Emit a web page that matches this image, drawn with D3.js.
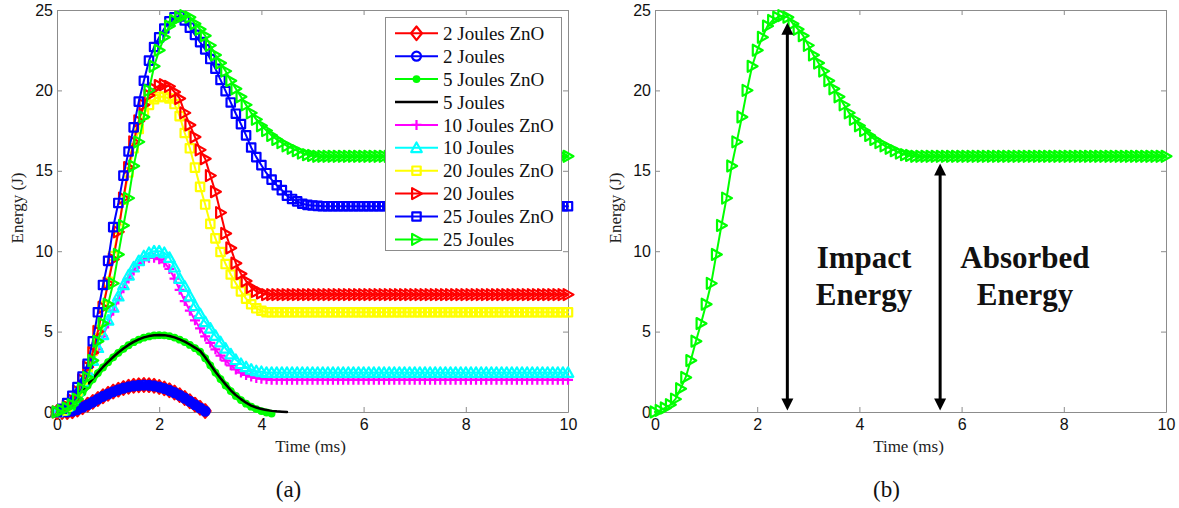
<!DOCTYPE html>
<html>
<head>
<meta charset="utf-8">
<script src="https://cdn.jsdelivr.net/npm/d3@7"></script>
<style>
  body { margin: 0; background: #fff; }
  svg { display: block; }
</style>
</head>
<body>
<script>
// sample times (ms), shared by every series
const timeMs = [
  0, 0.1, 0.2, 0.3, 0.4, 0.5, 0.6, 0.7, 0.8, 0.9,
  1, 1.1, 1.2, 1.3, 1.4, 1.5, 1.6, 1.7, 1.8, 1.9,
  2, 2.1, 2.2, 2.3, 2.4, 2.5, 2.6, 2.7, 2.8, 2.9,
  3, 3.1, 3.2, 3.3, 3.4, 3.5, 3.6, 3.7, 3.8, 3.9,
  4, 4.1, 4.2, 4.3, 4.4, 4.5, 4.6, 4.7, 4.8, 4.9,
  5, 5.1, 5.2, 5.3, 5.4, 5.5, 5.6, 5.7, 5.8, 5.9,
  6, 6.1, 6.2, 6.3, 6.4, 6.5, 6.6, 6.7, 6.8, 6.9,
  7, 7.1, 7.2, 7.3, 7.4, 7.5, 7.6, 7.7, 7.8, 7.9,
  8, 8.1, 8.2, 8.3, 8.4, 8.5, 8.6, 8.7, 8.8, 8.9,
  9, 9.1, 9.2, 9.3, 9.4, 9.5, 9.6, 9.7, 9.8, 9.9,
  10
];

// energy (J), one value per sample time
const energy2JZnO = [
  0, 0, 0, 0.05, 0.15, 0.3, 0.46, 0.63, 0.81, 0.98,
  1.13, 1.27, 1.39, 1.49, 1.57, 1.63, 1.66, 1.68, 1.67, 1.63,
  1.56, 1.47, 1.35, 1.21, 1.05, 0.87, 0.67, 0.46, 0.26, 0.06
];
const energy2J = [
  0, 0, 0, 0.05, 0.15, 0.3, 0.45, 0.62, 0.8, 0.97,
  1.12, 1.26, 1.38, 1.48, 1.56, 1.62, 1.65, 1.67, 1.66, 1.62,
  1.55, 1.46, 1.34, 1.2, 1.04, 0.86, 0.66, 0.45, 0.25, 0.05
];
const energy5JZnO = [
  0, 0, 0, 0.3, 0.75, 1.22, 1.65, 2.03, 2.42, 2.77,
  3.1, 3.4, 3.68, 3.93, 4.15, 4.34, 4.5, 4.62, 4.7, 4.76,
  4.78, 4.77, 4.72, 4.63, 4.5, 4.35, 4.17, 3.97, 3.75, 3.35,
  2.9, 2.45, 2.05, 1.65, 1.3, 1.0, 0.74, 0.52, 0.33, 0.18,
  0.06, -0.03, -0.1
];
const energy5J = [
  0, 0, 0.02, 0.35, 0.8, 1.27, 1.7, 2.07, 2.45, 2.8,
  3.12, 3.42, 3.7, 3.95, 4.17, 4.36, 4.52, 4.64, 4.72, 4.77,
  4.79, 4.78, 4.73, 4.64, 4.52, 4.38, 4.2, 4.0, 3.8, 3.4,
  2.95, 2.5, 2.1, 1.72, 1.35, 1.05, 0.8, 0.58, 0.4, 0.28,
  0.19, 0.12, 0.07, 0.04, 0.02, 0
];
const energy10JZnO = [
  0, 0.1, 0.3, 0.7, 1.2, 1.8, 2.4, 3.1, 3.9, 4.7,
  5.5, 6.3, 7.0, 7.7, 8.3, 8.8, 9.2, 9.45, 9.6, 9.6,
  9.5, 9.3, 8.9, 8.3, 7.6, 6.9, 6.3, 5.7, 5.2, 4.7,
  4.3, 3.9, 3.5, 3.2, 2.9, 2.65, 2.45, 2.3, 2.2, 2.12,
  2.07, 2.03, 2, 2, 2, 2, 2, 2, 2, 2,
  2, 2, 2, 2, 2, 2, 2, 2, 2, 2,
  2, 2, 2, 2, 2, 2, 2, 2, 2, 2,
  2, 2, 2, 2, 2, 2, 2, 2, 2, 2,
  2, 2, 2, 2, 2, 2, 2, 2, 2, 2,
  2, 2, 2, 2, 2, 2, 2, 2, 2, 2,
  2
];
const energy10J = [
  0, 0.1, 0.35, 0.8, 1.3, 1.9, 2.5, 3.2, 4.0, 4.8,
  5.7, 6.5, 7.2, 7.9, 8.5, 9.0, 9.4, 9.7, 9.9, 10.0,
  10.0, 9.9, 9.6, 9.0, 8.3, 7.8, 7.2, 6.6, 6.1, 5.6,
  5.2, 4.75, 4.35, 3.95, 3.6, 3.25, 3.0, 2.8, 2.65, 2.55,
  2.5, 2.45, 2.45, 2.45, 2.45, 2.45, 2.45, 2.45, 2.45, 2.45,
  2.45, 2.45, 2.45, 2.45, 2.45, 2.45, 2.45, 2.45, 2.45, 2.45,
  2.45, 2.45, 2.45, 2.45, 2.45, 2.45, 2.45, 2.45, 2.45, 2.45,
  2.45, 2.45, 2.45, 2.45, 2.45, 2.45, 2.45, 2.45, 2.45, 2.45,
  2.45, 2.45, 2.45, 2.45, 2.45, 2.45, 2.45, 2.45, 2.45, 2.45,
  2.45, 2.45, 2.45, 2.45, 2.45, 2.45, 2.45, 2.45, 2.45, 2.45,
  2.45
];
const energy20JZnO = [
  0, 0.1, 0.35, 0.75, 1.3, 2.0, 2.8, 3.8, 5.1, 6.6,
  8.1, 9.7, 11.4, 13.2, 14.9, 16.4, 17.6, 18.5, 19.1, 19.45,
  19.6, 19.6, 19.5, 19.15, 18.4, 17.35, 16.4, 15.2, 14.0, 12.9,
  11.7, 10.8, 9.95, 9.2, 8.55, 8.0, 7.5, 7.05, 6.7, 6.45,
  6.3, 6.2, 6.2, 6.2, 6.2, 6.2, 6.2, 6.2, 6.2, 6.2,
  6.2, 6.2, 6.2, 6.2, 6.2, 6.2, 6.2, 6.2, 6.2, 6.2,
  6.2, 6.2, 6.2, 6.2, 6.2, 6.2, 6.2, 6.2, 6.2, 6.2,
  6.2, 6.2, 6.2, 6.2, 6.2, 6.2, 6.2, 6.2, 6.2, 6.2,
  6.2, 6.2, 6.2, 6.2, 6.2, 6.2, 6.2, 6.2, 6.2, 6.2,
  6.2, 6.2, 6.2, 6.2, 6.2, 6.2, 6.2, 6.2, 6.2, 6.2,
  6.2
];
const energy20J = [
  0, 0.1, 0.35, 0.75, 1.3, 2.0, 2.8, 3.7, 5.0, 6.5,
  8.0, 9.5, 11.2, 13.3, 15.2, 16.8, 18.1, 19.1, 19.7, 20.1,
  20.3, 20.35, 20.25, 19.9, 19.5, 18.6, 17.85, 17.1, 16.3, 15.75,
  14.7, 13.7, 12.4, 11.1, 10.2, 9.25, 8.6, 8.15, 7.75, 7.5,
  7.4, 7.3, 7.3, 7.3, 7.3, 7.3, 7.3, 7.3, 7.3, 7.3,
  7.3, 7.3, 7.3, 7.3, 7.3, 7.3, 7.3, 7.3, 7.3, 7.3,
  7.3, 7.3, 7.3, 7.3, 7.3, 7.3, 7.3, 7.3, 7.3, 7.3,
  7.3, 7.3, 7.3, 7.3, 7.3, 7.3, 7.3, 7.3, 7.3, 7.3,
  7.3, 7.3, 7.3, 7.3, 7.3, 7.3, 7.3, 7.3, 7.3, 7.3,
  7.3, 7.3, 7.3, 7.3, 7.3, 7.3, 7.3, 7.3, 7.3, 7.3,
  7.3
];
const energy25JZnO = [
  0, 0.2, 0.55, 1.0, 1.55, 2.2, 3.0, 4.4, 6.2, 7.9,
  9.4, 11.5, 13.0, 14.7, 16.2, 17.7, 19.3, 20.6, 21.85, 22.7,
  23.3, 23.85, 24.3, 24.55, 24.6, 24.35, 23.9, 23.45, 23.0, 22.55,
  21.95, 21.35, 20.65, 19.95, 19.25, 18.55, 17.9, 17.2, 16.45, 15.85,
  15.35, 14.85, 14.45, 14.1, 13.8, 13.45, 13.25, 13.1, 12.95, 12.88,
  12.84, 12.82, 12.8, 12.8, 12.8, 12.8, 12.8, 12.8, 12.8, 12.8,
  12.8, 12.8, 12.8, 12.8, 12.8, 12.8, 12.8, 12.8, 12.8, 12.8,
  12.8, 12.8, 12.8, 12.8, 12.8, 12.8, 12.8, 12.8, 12.8, 12.8,
  12.8, 12.8, 12.8, 12.8, 12.8, 12.8, 12.8, 12.8, 12.8, 12.8,
  12.8, 12.8, 12.8, 12.8, 12.8, 12.8, 12.8, 12.8, 12.8, 12.8,
  12.8
];
const energy25J = [
  0, 0.1, 0.25, 0.45, 0.8, 1.45, 2.15, 3.2, 4.4, 5.5,
  6.7, 8.0, 9.8, 11.6, 13.3, 15.3, 16.8, 18.35, 20.0, 21.5,
  22.5, 23.3, 24.0, 24.35, 24.55, 24.65, 24.55, 24.15, 23.8, 23.4,
  22.8, 22.2, 21.7, 21.2, 20.6, 20.1, 19.6, 19.1, 18.6, 18.2,
  17.8, 17.5, 17.2, 16.95, 16.75, 16.55, 16.4, 16.25, 16.1, 16.0,
  15.95, 15.9, 15.9, 15.9, 15.9, 15.9, 15.9, 15.9, 15.9, 15.9,
  15.9, 15.9, 15.9, 15.9, 15.9, 15.9, 15.9, 15.9, 15.9, 15.9,
  15.9, 15.9, 15.9, 15.9, 15.9, 15.9, 15.9, 15.9, 15.9, 15.9,
  15.9, 15.9, 15.9, 15.9, 15.9, 15.9, 15.9, 15.9, 15.9, 15.9,
  15.9, 15.9, 15.9, 15.9, 15.9, 15.9, 15.9, 15.9, 15.9, 15.9,
  15.9
];

const legendLabels = [
  "2 Joules ZnO", "2 Joules", "5 Joules ZnO", "5 Joules", "10 Joules ZnO",
  "10 Joules", "20 Joules ZnO", "20 Joules", "25 Joules ZnO", "25 Joules"
];
const xTicks = [0, 2, 4, 6, 8, 10];
const yTicks = [0, 5, 10, 15, 20, 25];

// annotations of panel (b), in data units
const arrows = [
  { t: 2.59, from: 0.1, to: 24.2 },
  { t: 5.58, from: 0.1, to: 15.45 }
];
const notes = [
  { t: 4.09, e: 8.95, lines: ["Impact", "Energy"] },
  { t: 7.24, e: 8.95, lines: ["Absorbed", "Energy"] }
];

// styles, in the order the lines are drawn (band = plotted line width)
const styleA = [
  { color: "#ff0000", marker: "diamond", size: 6.8, lw: 2, band: 3 },
  { color: "#0000ff", marker: "circle", size: 4.5, lw: 2, band: 8 },
  { color: "#00ff00", marker: "dot", size: 3.9, lw: 2, band: 6 },
  { color: "#000000", marker: null, size: 0, lw: 2.5, band: 2.5 },
  { color: "#ff00ff", marker: "plus", size: 5, lw: 2, band: 2 },
  { color: "#00ffff", marker: "triUp", size: 5.3, lw: 2, band: 2 },
  { color: "#ffff00", marker: "square", size: 4.2, lw: 2, band: 2 },
  { color: "#ff0000", marker: "triRight", size: 5.5, lw: 2, band: 2 },
  { color: "#0000ff", marker: "square", size: 4.2, lw: 2, band: 2 },
  { color: "#00ff00", marker: "triRight", size: 5.5, lw: 2, band: 2 }
];
const valuesA = [
  energy2JZnO, energy2J, energy5JZnO, energy5J, energy10JZnO,
  energy10J, energy20JZnO, energy20J, energy25JZnO, energy25J
];

const W = 1179, H = 508;
const axisGray = "#8c8c8c";
const serif = "'Liberation Serif', 'Times New Roman', serif";
const sans = "'Liberation Sans', Arial, sans-serif";

const svg = d3.select("body").append("svg")
  .attr("width", W)
  .attr("height", H)
  .attr("viewBox", `0 0 ${W} ${H}`);

function markerPath(type, h) {
  switch (type) {
    case "diamond": return `M0,${-h}L${h * 0.8},0L0,${h}L${-h * 0.8},0Z`;
    case "square": return `M${-h},${-h}H${h}V${h}H${-h}Z`;
    case "triUp": return `M0,${-h}L${h},${h * 0.8}L${-h},${h * 0.8}Z`;
    case "triRight": return `M${h},0L${-h * 0.8},${-h}L${-h * 0.8},${h}Z`;
    case "plus": return `M${-h},0H${h}M0,${-h}V${h}`;
    default: return `M${h},0A${h},${h} 0 1,1 ${-h},0A${h},${h} 0 1,1 ${h},0Z`;
  }
}

function drawMarker(sel, s) {
  sel.attr("d", markerPath(s.marker, s.size))
    .attr("fill", s.marker === "dot" ? s.color : "none")
    .attr("stroke", s.color)
    .attr("stroke-width", s.marker === "dot" ? 0 : 2.2)
    .attr("stroke-linejoin", "round");
}

function drawAxes(left, right, caption) {
  const x = d3.scaleLinear().domain([0, 10]).range([left, right]);
  const y = d3.scaleLinear().domain([0, 25]).range([412, 10]);
  const g = svg.append("g");

  const styleAxis = (a) => {
    a.selectAll("path, line").attr("stroke", axisGray).attr("stroke-width", 1);
    a.selectAll("text").attr("font-family", sans).attr("font-size", 16).attr("fill", "#111");
  };

  g.append("g").attr("transform", `translate(0,${y(0)})`)
    .call(d3.axisBottom(x).tickValues(xTicks).tickSize(-5).tickSizeOuter(0).tickPadding(7))
    .call(styleAxis);
  g.append("g").attr("transform", `translate(0,${y(25)})`)
    .call(d3.axisTop(x).tickValues(xTicks).tickSize(-5).tickSizeOuter(0).tickFormat(""))
    .call(styleAxis);
  g.append("g").attr("transform", `translate(${x(0)},0)`)
    .call(d3.axisLeft(y).tickValues(yTicks).tickSize(-5).tickSizeOuter(0).tickPadding(4))
    .call(styleAxis);
  g.append("g").attr("transform", `translate(${x(10)},0)`)
    .call(d3.axisRight(y).tickValues(yTicks).tickSize(-5).tickSizeOuter(0).tickFormat(""))
    .call(styleAxis);

  g.append("text")
    .attr("transform", `translate(${left - 34},${(y(0) + y(25)) / 2 - 3}) rotate(-90)`)
    .attr("text-anchor", "middle")
    .attr("font-family", serif).attr("font-size", 17).attr("fill", "#222")
    .text("Energy (J)");
  g.append("text")
    .attr("x", (left + right) / 2 - 2).attr("y", 452)
    .attr("text-anchor", "middle")
    .attr("font-family", serif).attr("font-size", 17).attr("fill", "#222")
    .text("Time (ms)");
  g.append("text")
    .attr("x", (left + right) / 2 - 24).attr("y", 497)
    .attr("text-anchor", "middle")
    .attr("font-family", serif).attr("font-size", 23).attr("fill", "#111")
    .text(caption);

  return { x, y };
}

function drawSeries(x, y, values, s) {
  const pts = values.map((v, i) => [timeMs[i], v]);
  const g = svg.append("g");
  g.append("path")
    .datum(pts)
    .attr("d", d3.line().x(d => x(d[0])).y(d => y(d[1])))
    .attr("fill", "none")
    .attr("stroke", s.color)
    .attr("stroke-width", s.band)
    .attr("stroke-linejoin", "round")
    .attr("stroke-linecap", "round");
  if (s.marker) {
    g.selectAll("path.mk")
      .data(pts)
      .join("path")
      .attr("class", "mk")
      .attr("transform", d => `translate(${x(d[0])},${y(d[1])})`)
      .call(drawMarker, s);
  }
}

// panel (a)
const a = drawAxes(57, 568, "(a)");
valuesA.forEach((v, i) => drawSeries(a.x, a.y, v, styleA[i]));

// legend of panel (a)
const legend = svg.append("g");
legend.append("rect")
  .attr("x", 385.5).attr("y", 17.5).attr("width", 176).attr("height", 233)
  .attr("fill", "#fff").attr("stroke", axisGray);
legendLabels.forEach((label, i) => {
  const s = styleA[i];
  const ry = 33.3 + i * 22.9;
  legend.append("line")
    .attr("x1", 395).attr("x2", 438).attr("y1", ry).attr("y2", ry)
    .attr("stroke", s.color).attr("stroke-width", s.lw);
  if (s.marker) {
    legend.append("path")
      .attr("transform", `translate(416.5,${ry})`)
      .call(drawMarker, s);
  }
  legend.append("text")
    .attr("x", 443).attr("y", ry).attr("dy", "0.35em")
    .attr("font-family", serif).attr("font-size", 19).attr("fill", "#111")
    .text(label);
});

// panel (b)
const b = drawAxes(655, 1166, "(b)");
drawSeries(b.x, b.y, energy25J, styleA[9]);

const ann = svg.append("g");
const head = 12, half = 6;
arrows.forEach(ar => {
  const ax = b.x(ar.t), yTop = b.y(ar.to), yBot = b.y(ar.from);
  ann.append("line")
    .attr("x1", ax).attr("x2", ax)
    .attr("y1", yTop + head - 1).attr("y2", yBot - head + 1)
    .attr("stroke", "#000").attr("stroke-width", 3);
  ann.append("path")
    .attr("d", `M${ax},${yTop}L${ax + half},${yTop + head}L${ax - half},${yTop + head}Z`)
    .attr("fill", "#000");
  ann.append("path")
    .attr("d", `M${ax},${yBot}L${ax + half},${yBot - head}L${ax - half},${yBot - head}Z`)
    .attr("fill", "#000");
});
notes.forEach(n => {
  const t = ann.append("text")
    .attr("x", b.x(n.t)).attr("y", b.y(n.e))
    .attr("text-anchor", "middle")
    .attr("font-family", serif).attr("font-size", 31).attr("font-weight", "bold")
    .attr("fill", "#111");
  n.lines.forEach((line, i) => {
    t.append("tspan").attr("x", b.x(n.t)).attr("dy", i === 0 ? 0 : 37).text(line);
  });
});
</script>
</body>
</html>
